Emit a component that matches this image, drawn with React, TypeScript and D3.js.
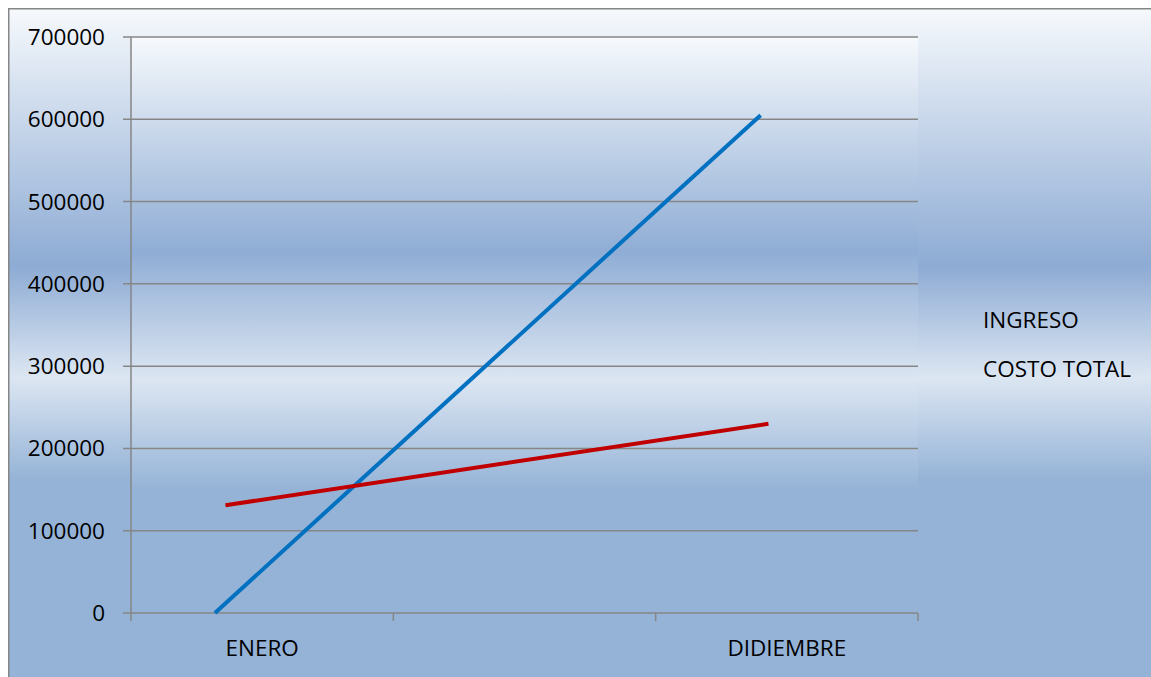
import React, { useEffect, useRef } from "react";
import * as d3 from "d3";

// categories on the x axis (middle one has no label)
const categories = ["ENERO", " ", "DIDIEMBRE"];
const yTicks = [0, 100000, 200000, 300000, 400000, 500000, 600000, 700000];

// series: values and where each point sits along the category axis (in category units)
const seriesNames = ["INGRESO", "COSTO TOTAL"];
const ingresoValues = [0, 605000];
const ingresoPos = [0.32, 2.4];
const costoValues = [131000, 230000];
const costoPos = [0.36, 2.43];

const W = 1151;
const H = 677;

export default function App() {
  const ref = useRef<SVGSVGElement>(null);

  useEffect(() => {
    const root = d3.select(ref.current);
    root.selectAll("*").remove();

    const plot = { left: 123, top: 29, right: 910, bottom: 605 };
    const font = "'Open Sans', sans-serif";
    const fs = "22.5px";
    const gridColor = "#868686";

    const defs = root.append("defs");
    const grad = (id: string, stops: [number, string][]) => {
      const g = defs.append("linearGradient").attr("id", id)
        .attr("x1", 0).attr("y1", 0).attr("x2", 0).attr("y2", 1);
      stops.forEach(([o, c]) => g.append("stop").attr("offset", o).attr("stop-color", c));
    };
    grad("outerBg", [[0, "#f6f9fc"], [0.377, "#8dabd4"], [0.54, "#dce6f2"], [0.69, "#95b3d7"], [1, "#95b3d7"]]);
    grad("plotBg", [[0, "#f6f9fc"], [0.373, "#8fadd5"], [0.595, "#dce6f2"], [0.786, "#95b3d7"], [1, "#95b3d7"]]);

    // chart area sits where the body margin would put it
    const svg = root.append("g").attr("transform", "translate(8,8)");

    // chart frame (runs past the right and bottom edges)
    svg.append("rect")
      .attr("x", 0.75).attr("y", 0.75).attr("width", W + 20).attr("height", 682)
      .attr("fill", "url(#outerBg)")
      .attr("stroke", gridColor).attr("stroke-width", 1.5);

    svg.append("rect")
      .attr("x", plot.left).attr("y", plot.top)
      .attr("width", plot.right - plot.left).attr("height", plot.bottom - plot.top)
      .attr("fill", "url(#plotBg)");

    const y = d3.scaleLinear().domain([0, 700000]).range([plot.bottom, plot.top]);
    const xBand = d3.scaleBand().domain(categories).range([plot.left, plot.right]);
    const xPos = d3.scaleLinear().domain([0, categories.length]).range([plot.left, plot.right]);

    // gridlines + y ticks
    svg.append("g").selectAll("line").data(yTicks).enter().append("line")
      .attr("x1", plot.left - 8).attr("x2", plot.right)
      .attr("y1", (d) => y(d)).attr("y2", (d) => y(d))
      .attr("stroke", gridColor).attr("stroke-width", 1.5);

    svg.append("g").selectAll("text").data(yTicks).enter().append("text")
      .attr("x", 97).attr("y", (d) => y(d) + 8)
      .attr("text-anchor", "end")
      .attr("font-family", font).attr("font-size", fs).attr("fill", "#000")
      .text((d) => String(d));

    // y axis line
    svg.append("line")
      .attr("x1", plot.left).attr("x2", plot.left)
      .attr("y1", plot.top).attr("y2", plot.bottom)
      .attr("stroke", gridColor).attr("stroke-width", 1.5);

    // x ticks at band edges
    const edges = categories.map((c) => xBand(c) as number).concat([plot.right]);
    svg.append("g").selectAll("line").data(edges).enter().append("line")
      .attr("x1", (d) => d).attr("x2", (d) => d)
      .attr("y1", plot.bottom).attr("y2", plot.bottom + 8)
      .attr("stroke", gridColor).attr("stroke-width", 1.5);

    svg.append("g").selectAll("text").data(categories).enter().append("text")
      .attr("x", (d) => (xBand(d) as number) + xBand.bandwidth() / 2)
      .attr("y", 648)
      .attr("text-anchor", "middle")
      .attr("font-family", font).attr("font-size", fs).attr("fill", "#000")
      .text((d) => d);

    // series lines
    const line = d3.line<[number, number]>()
      .x((d) => xPos(d[0]))
      .y((d) => y(d[1]));
    const series = [
      { pos: ingresoPos, vals: ingresoValues, color: "#0070c0" },
      { pos: costoPos, vals: costoValues, color: "#c00000" },
    ];
    series.forEach((s) => {
      svg.append("path")
        .datum(s.pos.map((p, i) => [p, s.vals[i]] as [number, number]))
        .attr("d", line)
        .attr("fill", "none")
        .attr("stroke", s.color)
        .attr("stroke-width", 4);
    });

    // legend (text only)
    svg.append("g").selectAll("text").data(seriesNames).enter().append("text")
      .attr("x", 975).attr("y", (d, i) => 320 + i * 49)
      .attr("font-family", font).attr("font-size", fs).attr("fill", "#000")
      .text((d) => d);
  }, []);

  return (
    <svg ref={ref} width={W} height={H}
         style={{ position: "absolute", left: 0, top: 0, display: "block" }}></svg>
  );
}
